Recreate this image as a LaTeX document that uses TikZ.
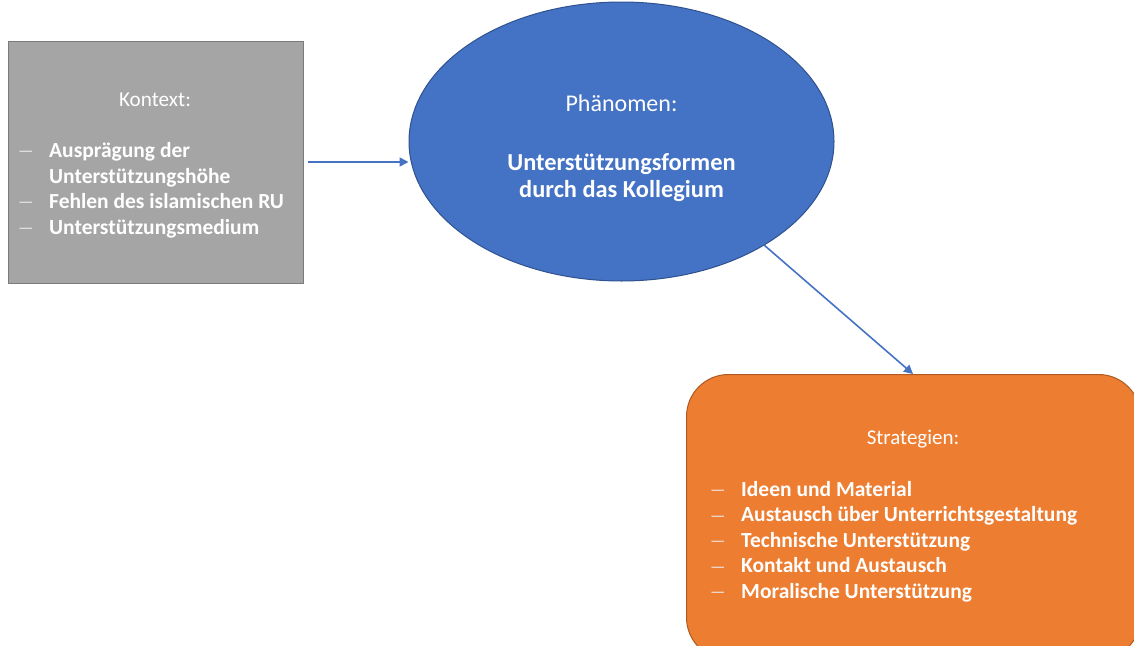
\documentclass[tikz,border=0pt]{standalone}
\usepackage{fontspec}
\setmainfont{Carlito}
\usetikzlibrary{arrows.meta,shapes.geometric,calc}
\definecolor{ctxfill}{HTML}{A5A5A5}
\definecolor{ctxline}{HTML}{7B7B7B}
\definecolor{phfill}{HTML}{4472C4}
\definecolor{phline}{HTML}{2F528F}
\definecolor{stfill}{HTML}{ED7D31}
\definecolor{stline}{HTML}{AE5A21}
\tikzset{
  boxtitle/.style={text=white, font=\fontsize{21.2}{25}\selectfont, inner sep=0pt, anchor=base},
  headline/.style={text=white, font=\fontsize{24.4}{28}\selectfont\bfseries, inner sep=0pt, anchor=base},
  itemtext/.style={text=white, font=\fontsize{21.5}{25}\selectfont\bfseries, inner sep=0pt, anchor=base west},
  itemdash/.style={text=white!85!gray, font=\fontsize{17}{20}\selectfont, inner sep=0pt, anchor=base west},
  link/.style={draw=phfill, line width=1.6pt, -{Triangle[length=9pt,width=9pt]}},
}
\begin{document}
\begin{tikzpicture}[x=1pt,y=-1pt]
\useasboundingbox (0,0) rectangle (1134,645);
\clip (0,0) rectangle (1134,645);

% context box
\node (ctx) [draw=ctxline, fill=ctxfill, line width=1pt, minimum width=295pt, minimum height=242pt, inner sep=0pt] at (155.5,162) {};
\node (ctxT) [boxtitle] at (155,106) {Kontext:};
\foreach \y/\d/\t [count=\i] in {157/—/Ausprägung der, 183//Unterstützungshöhe, 208/—/Fehlen des islamischen RU, 234/—/Unterstützungsmedium}{
  \node (ctxd\i) [itemdash] at (18,\y-0.5) {\d};
  \node (ctxi\i) [itemtext] at (49,\y) {\t};
}

% phenomenon ellipse
\node (ph) [ellipse, draw=phline, fill=phfill, line width=1pt, minimum width=425pt, minimum height=279pt, inner sep=0pt] at (621.5,141.5) {};
\node (phT) [boxtitle, font=\fontsize{24}{28}\selectfont] at (621.5,111) {Phänomen:};
\node (ph1) [headline] at (621.5,170) {Unterstützungsformen};
\node (ph2) [headline] at (621.5,197) {durch das Kollegium};

% strategies box
\node (st) [draw=stline, fill=stfill, line width=1pt, rounded corners=42pt, minimum width=454pt, minimum height=285pt, inner sep=0pt, anchor=north west] at (686,374) {};
\node (stT) [boxtitle, font=\fontsize{21}{25}\selectfont] at (913,444) {Strategien:};
\foreach \y/\t [count=\i] in {496/Ideen und Material, 521.5/Austausch über Unterrichtsgestaltung, 547/Technische Unterstützung, 572.5/Kontakt und Austausch, 598/Moralische Unterstützung}{
  \node (std\i) [itemdash] at (710,\y-0.5) {—};
  \node (sti\i) [itemtext] at (741,\y) {\t};
}

% connectors
\coordinate (ctxOut) at ($(ctx.east)+(4,0)$);
\coordinate (stIn) at ($(st.north west)+(227,0)$);
\draw[link] (ctxOut) -- (ctxOut -| ph.west);
\draw[link] (ph.-36) -- (stIn);
\end{tikzpicture}
\end{document}
